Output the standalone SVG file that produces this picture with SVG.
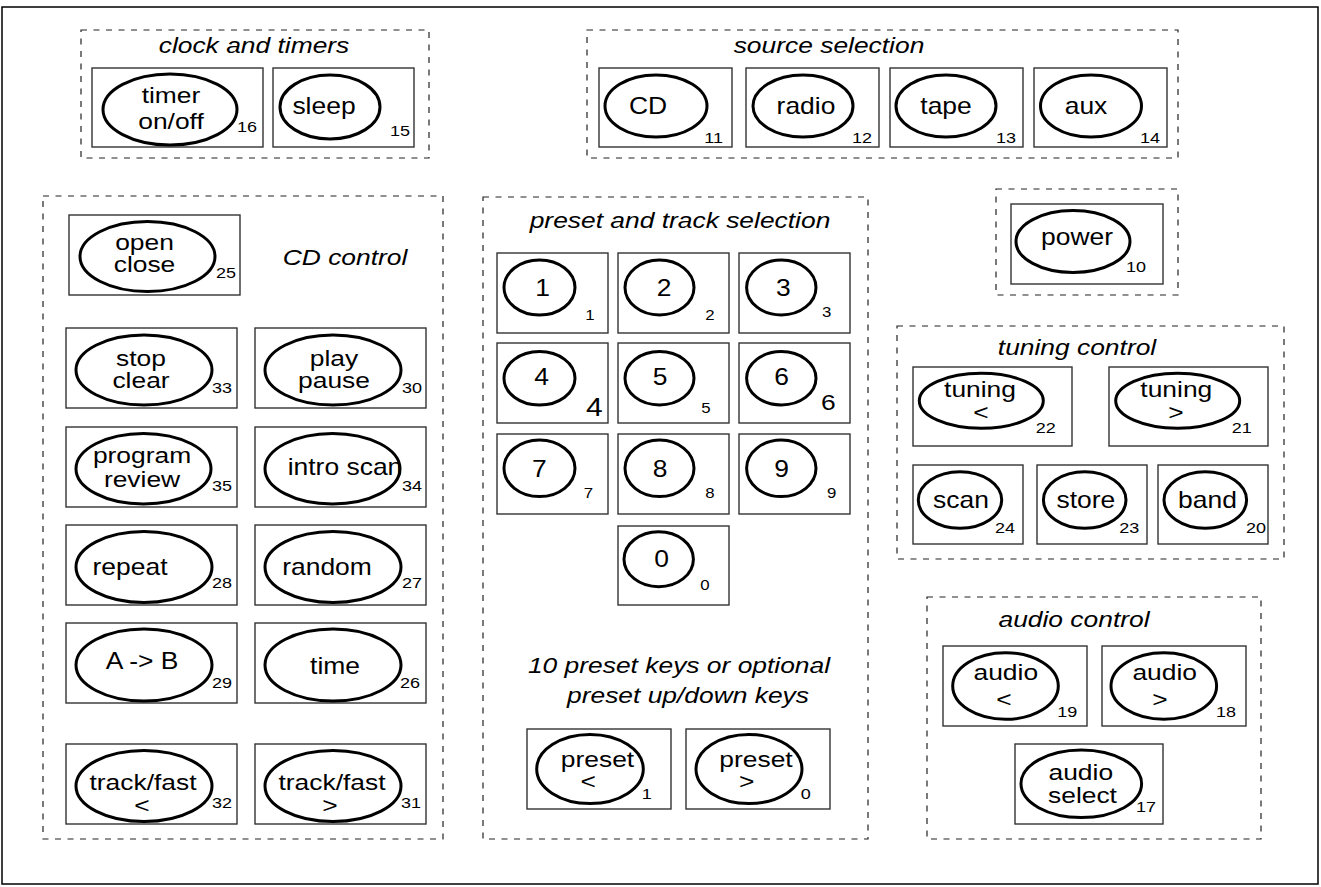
<svg xmlns="http://www.w3.org/2000/svg" width="1321" height="887" viewBox="0 0 1321 887">
<style>
.frame{fill:none;stroke:#000;stroke-width:1.5}
.grp{fill:none;stroke:#222;stroke-width:1.2;stroke-dasharray:6 6.5}
.box{fill:#fff;stroke:#333;stroke-width:1.4}
.btn{fill:none;stroke:#000;stroke-width:3}
text{font-family:"Liberation Sans",Arial,Helvetica,sans-serif;fill:#000}
.t{font-size:22px;text-anchor:middle}
.t1{font-size:23px;text-anchor:middle}
.ti{font-size:22px;font-style:italic;text-anchor:middle}
.n{font-size:15px}
.nm{font-size:14px;text-anchor:middle}
</style>
<rect x="0" y="0" width="1321" height="887" fill="#fff"/>
<rect class="frame" x="2" y="7" width="1316" height="877"/>

<g id="groups">
<g id="grp-clock"><rect class="grp" x="81" y="30" width="348" height="128"/><text class="ti" transform="translate(254 53) scale(1.2 1)">clock and timers</text></g>
<g id="grp-source"><rect class="grp" x="587" y="30" width="591" height="128"/><text class="ti" transform="translate(829 53) scale(1.2 1)">source selection</text></g>
<g id="grp-cd"><rect class="grp" x="43" y="196" width="400" height="643"/><text class="ti" transform="translate(345 265) scale(1.2 1)">CD control</text></g>
<g id="grp-preset"><rect class="grp" x="483" y="197" width="385" height="642"/><text class="ti" transform="translate(680 228) scale(1.2 1)">preset and track selection</text><text class="ti" transform="translate(679 673) scale(1.2 1)">10 preset keys or optional</text><text class="ti" transform="translate(688 703) scale(1.2 1)">preset up/down keys</text></g>
<g id="grp-power"><rect class="grp" x="996" y="189" width="182" height="106"/></g>
<g id="grp-tuning"><rect class="grp" x="897" y="326" width="387" height="233"/><text class="ti" transform="translate(1077 355) scale(1.2 1)">tuning control</text></g>
<g id="grp-audio"><rect class="grp" x="927" y="597" width="334" height="242"/><text class="ti" transform="translate(1074 627) scale(1.2 1)">audio control</text></g>
</g>

<g id="connectors"/>

<g id="nodes">
<g id="k16"><rect class="box" x="92" y="68" width="171" height="79"/><ellipse class="btn" cx="170" cy="109.5" rx="67" ry="35.5"/><text class="t" transform="translate(171 103) scale(1.2 1)">timer</text><text class="t" transform="translate(171 129) scale(1.2 1)">on/off</text><text class="n" transform="translate(237 132) scale(1.2 1)">16</text></g>
<g id="k15"><rect class="box" x="273" y="68" width="141" height="79"/><ellipse class="btn" cx="330" cy="107" rx="50" ry="32"/><text class="t1" transform="translate(324 114) scale(1.15 1)">sleep</text><text class="n" transform="translate(390 136) scale(1.2 1)">15</text></g>

<g id="k11"><rect class="box" x="599" y="68" width="133" height="79"/><ellipse class="btn" cx="656" cy="106" rx="51" ry="31"/><text class="t1" transform="translate(648 114) scale(1.15 1)">CD</text><text class="n" text-anchor="end" transform="translate(723 143) scale(1.2 1)">11</text></g>
<g id="k12"><rect class="box" x="746" y="68" width="133" height="79"/><ellipse class="btn" cx="803" cy="106" rx="50" ry="31"/><text class="t1" transform="translate(806 114) scale(1.15 1)">radio</text><text class="n" text-anchor="end" transform="translate(872 143) scale(1.2 1)">12</text></g>
<g id="k13"><rect class="box" x="890" y="68" width="133" height="79"/><ellipse class="btn" cx="946" cy="106" rx="50" ry="31"/><text class="t1" transform="translate(946 114) scale(1.15 1)">tape</text><text class="n" text-anchor="end" transform="translate(1016 143) scale(1.2 1)">13</text></g>
<g id="k14"><rect class="box" x="1034" y="68" width="133" height="79"/><ellipse class="btn" cx="1091" cy="106" rx="50.5" ry="31"/><text class="t1" transform="translate(1086 114) scale(1.15 1)">aux</text><text class="n" text-anchor="end" transform="translate(1160 143) scale(1.2 1)">14</text></g>

<g id="k10"><rect class="box" x="1011" y="204" width="152" height="80"/><ellipse class="btn" cx="1073" cy="241.5" rx="57" ry="31"/><text class="t1" transform="translate(1077 245) scale(1.15 1)">power</text><text class="n" transform="translate(1126 272) scale(1.2 1)">10</text></g>

<g id="k25"><rect class="box" x="69" y="215" width="171" height="80"/><ellipse class="btn" cx="147.5" cy="256.5" rx="67.5" ry="35"/><text class="t" transform="translate(144.5 250) scale(1.2 1)">open</text><text class="t" transform="translate(144.5 272) scale(1.2 1)">close</text><text class="n" transform="translate(216 278) scale(1.2 1)">25</text></g>
<g id="k33"><rect class="box" x="66" y="328" width="171" height="80"/><ellipse class="btn" cx="144" cy="370" rx="68" ry="35"/><text class="t" transform="translate(141 366) scale(1.2 1)">stop</text><text class="t" transform="translate(141 388) scale(1.2 1)">clear</text><text class="n" transform="translate(212 393) scale(1.2 1)">33</text></g>
<g id="k30"><rect class="box" x="255" y="328" width="171" height="80"/><ellipse class="btn" cx="333" cy="370" rx="68" ry="35"/><text class="t" transform="translate(334 366) scale(1.2 1)">play</text><text class="t" transform="translate(334 388) scale(1.2 1)">pause</text><text class="n" transform="translate(402 393) scale(1.2 1)">30</text></g>
<g id="k35"><rect class="box" x="66" y="427" width="171" height="80"/><ellipse class="btn" cx="143.5" cy="468.7" rx="67.5" ry="35.3"/><text class="t" transform="translate(142 463) scale(1.2 1)">program</text><text class="t" transform="translate(142 487) scale(1.2 1)">review</text><text class="n" transform="translate(212 491) scale(1.2 1)">35</text></g>
<g id="k34"><rect class="box" x="255" y="427" width="171" height="80"/><ellipse class="btn" cx="332.5" cy="468.7" rx="67.5" ry="35.3"/><text class="t1" transform="translate(345 475) scale(1.15 1)">intro scan</text><text class="n" transform="translate(402 491) scale(1.2 1)">34</text></g>
<g id="k28"><rect class="box" x="66" y="525" width="171" height="80"/><ellipse class="btn" cx="144" cy="567" rx="68" ry="35.5"/><text class="t1" transform="translate(130 575) scale(1.15 1)">repeat</text><text class="n" transform="translate(212 588) scale(1.2 1)">28</text></g>
<g id="k27"><rect class="box" x="255" y="525" width="171" height="80"/><ellipse class="btn" cx="333" cy="567" rx="68" ry="35.5"/><text class="t1" transform="translate(327 575) scale(1.15 1)">random</text><text class="n" transform="translate(402 588) scale(1.2 1)">27</text></g>
<g id="k29"><rect class="box" x="66" y="623" width="171" height="80"/><ellipse class="btn" cx="144" cy="665" rx="68" ry="36"/><text class="t1" transform="translate(142 669) scale(1.15 1)">A -&gt; B</text><text class="n" transform="translate(212 688) scale(1.2 1)">29</text></g>
<g id="k26"><rect class="box" x="255" y="623" width="171" height="80"/><ellipse class="btn" cx="333" cy="665" rx="68" ry="36"/><text class="t1" transform="translate(335 674) scale(1.15 1)">time</text><text class="n" transform="translate(400 688) scale(1.2 1)">26</text></g>
<g id="k32"><rect class="box" x="66" y="744" width="171" height="80"/><ellipse class="btn" cx="144" cy="786" rx="68" ry="35.5"/><text class="t" transform="translate(143 790) scale(1.2 1)">track/fast</text><text class="t" transform="translate(142 813) scale(1.2 1)">&lt;</text><text class="n" transform="translate(212 808) scale(1.2 1)">32</text></g>
<g id="k31"><rect class="box" x="255" y="744" width="171" height="80"/><ellipse class="btn" cx="333" cy="786" rx="68" ry="35.5"/><text class="t" transform="translate(332 790) scale(1.2 1)">track/fast</text><text class="t" transform="translate(330 813) scale(1.2 1)">&gt;</text><text class="n" transform="translate(401 808) scale(1.2 1)">31</text></g>

<g id="d1"><rect class="box" x="497" y="253" width="111" height="80"/><ellipse class="btn" cx="539.5" cy="287.5" rx="35.5" ry="27.5"/><text class="t1" transform="translate(542.5 296) scale(1.15 1)">1</text><text class="nm" transform="translate(590 320) scale(1.2 1)">1</text></g>
<g id="d2"><rect class="box" x="618" y="253" width="111" height="80"/><ellipse class="btn" cx="659.5" cy="287.5" rx="34.5" ry="27.5"/><text class="t1" transform="translate(664 296) scale(1.15 1)">2</text><text class="nm" transform="translate(710 320) scale(1.2 1)">2</text></g>
<g id="d3"><rect class="box" x="739" y="253" width="111" height="80"/><ellipse class="btn" cx="781.3" cy="287.5" rx="34.7" ry="27.5"/><text class="t1" transform="translate(783.3 296) scale(1.15 1)">3</text><text class="nm" transform="translate(826.7 317.3) scale(1.2 1)">3</text></g>
<g id="d4"><rect class="box" x="497" y="343" width="111" height="80"/><ellipse class="btn" cx="539.5" cy="378.3" rx="35.5" ry="26.7"/><text class="t1" transform="translate(541.7 385) scale(1.15 1)">4</text><text class="nm" style="font-size:25px" transform="translate(594.3 416) scale(1.2 1)">4</text></g>
<g id="d5"><rect class="box" x="618" y="343" width="111" height="80"/><ellipse class="btn" cx="659.5" cy="378.3" rx="34.5" ry="26.7"/><text class="t1" transform="translate(660 385) scale(1.15 1)">5</text><text class="nm" transform="translate(706 412.7) scale(1.2 1)">5</text></g>
<g id="d6"><rect class="box" x="739" y="343" width="111" height="80"/><ellipse class="btn" cx="781.3" cy="378.3" rx="34.7" ry="26.7"/><text class="t1" transform="translate(781.7 385) scale(1.15 1)">6</text><text class="nm" style="font-size:22px" transform="translate(828.3 410) scale(1.2 1)">6</text></g>
<g id="d7"><rect class="box" x="497" y="434" width="111" height="80"/><ellipse class="btn" cx="539.5" cy="468.3" rx="35.5" ry="28.3"/><text class="t1" transform="translate(539.3 476.7) scale(1.15 1)">7</text><text class="nm" transform="translate(588.3 498.3) scale(1.2 1)">7</text></g>
<g id="d8"><rect class="box" x="618" y="434" width="111" height="80"/><ellipse class="btn" cx="659.5" cy="468.3" rx="34.5" ry="28.3"/><text class="t1" transform="translate(660 476.7) scale(1.15 1)">8</text><text class="nm" transform="translate(710 498.3) scale(1.2 1)">8</text></g>
<g id="d9"><rect class="box" x="739" y="434" width="111" height="80"/><ellipse class="btn" cx="781.3" cy="468.3" rx="34.7" ry="28.3"/><text class="t1" transform="translate(781.7 476.7) scale(1.15 1)">9</text><text class="nm" transform="translate(831.7 498.3) scale(1.2 1)">9</text></g>
<g id="d0"><rect class="box" x="618" y="526" width="111" height="79"/><ellipse class="btn" cx="658.7" cy="559.2" rx="34.7" ry="27.5"/><text class="t1" transform="translate(661.7 567.3) scale(1.15 1)">0</text><text class="nm" transform="translate(705 590) scale(1.2 1)">0</text></g>

<g id="pdown"><rect class="box" x="527" y="729" width="144" height="80"/><ellipse class="btn" cx="590" cy="769" rx="53.3" ry="34.5"/><text class="t" transform="translate(597.5 766.7) scale(1.2 1)">preset</text><text class="t" transform="translate(588.3 789.3) scale(1.2 1)">&lt;</text><text class="n" transform="translate(641.7 799.3) scale(1.2 1)">1</text></g>
<g id="pup"><rect class="box" x="686" y="729" width="144" height="80"/><ellipse class="btn" cx="749" cy="769" rx="53" ry="34.5"/><text class="t" transform="translate(756 766.7) scale(1.2 1)">preset</text><text class="t" transform="translate(746.7 789.3) scale(1.2 1)">&gt;</text><text class="n" transform="translate(800.7 799.3) scale(1.2 1)">0</text></g>

<g id="k22"><rect class="box" x="913" y="367" width="159" height="79"/><ellipse class="btn" cx="981.3" cy="400.8" rx="62" ry="27.5"/><text class="t" transform="translate(980 397) scale(1.2 1)">tuning</text><text class="t" transform="translate(981 420) scale(1.2 1)">&lt;</text><text class="n" transform="translate(1035.7 432.7) scale(1.2 1)">22</text></g>
<g id="k21"><rect class="box" x="1109" y="367" width="159" height="79"/><ellipse class="btn" cx="1177.7" cy="400.8" rx="62" ry="27.5"/><text class="t" transform="translate(1176.3 397) scale(1.2 1)">tuning</text><text class="t" transform="translate(1176 420) scale(1.2 1)">&gt;</text><text class="n" transform="translate(1231.7 432.7) scale(1.2 1)">21</text></g>
<g id="k24"><rect class="box" x="913" y="465" width="110" height="79"/><ellipse class="btn" cx="960" cy="500" rx="41.7" ry="28.3"/><text class="t1" transform="translate(961 507.7) scale(1.15 1)">scan</text><text class="n" transform="translate(995 532.7) scale(1.2 1)">24</text></g>
<g id="k23"><rect class="box" x="1037" y="465" width="110" height="79"/><ellipse class="btn" cx="1084.7" cy="500" rx="41.3" ry="28.3"/><text class="t1" transform="translate(1085.8 507.7) scale(1.15 1)">store</text><text class="n" transform="translate(1119.3 532.7) scale(1.2 1)">23</text></g>
<g id="k20"><rect class="box" x="1158" y="465" width="110" height="79"/><ellipse class="btn" cx="1205.3" cy="500" rx="41.3" ry="28.3"/><text class="t1" transform="translate(1207.5 507.7) scale(1.15 1)">band</text><text class="n" transform="translate(1246 532.7) scale(1.2 1)">20</text></g>

<g id="k19"><rect class="box" x="943" y="646" width="144" height="80"/><ellipse class="btn" cx="1005.5" cy="686" rx="52.8" ry="33.3"/><text class="t" transform="translate(1005.8 680) scale(1.2 1)">audio</text><text class="t" transform="translate(1004 706.7) scale(1.2 1)">&lt;</text><text class="n" transform="translate(1057.3 716.7) scale(1.2 1)">19</text></g>
<g id="k18"><rect class="box" x="1102" y="646" width="144" height="80"/><ellipse class="btn" cx="1163.8" cy="686" rx="52.8" ry="33.3"/><text class="t" transform="translate(1164.7 680) scale(1.2 1)">audio</text><text class="t" transform="translate(1160 706.7) scale(1.2 1)">&gt;</text><text class="n" transform="translate(1216 716.7) scale(1.2 1)">18</text></g>
<g id="k17"><rect class="box" x="1015" y="744" width="148" height="80"/><ellipse class="btn" cx="1081.3" cy="783.8" rx="60.3" ry="33.8"/><text class="t" transform="translate(1080.8 779.7) scale(1.2 1)">audio</text><text class="t" transform="translate(1082.5 802.7) scale(1.2 1)">select</text><text class="n" transform="translate(1136 811.7) scale(1.2 1)">17</text></g>
</g>
</svg>
